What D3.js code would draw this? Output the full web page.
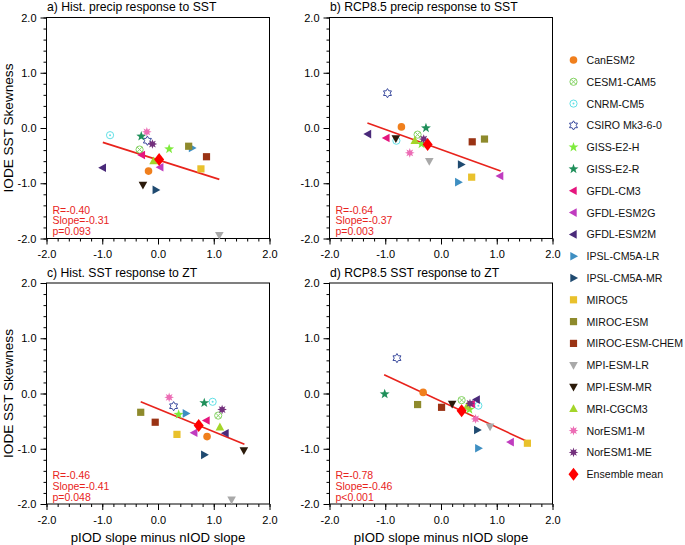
<!DOCTYPE html>
<html><head><meta charset="utf-8">
<script src="https://cdn.jsdelivr.net/npm/d3@7"></script>
<style>
body{margin:0;background:#fff;}
svg text{font-family:"Liberation Sans",Arial,Helvetica,sans-serif;}
</style></head>
<body><svg id="chart" width="685" height="545"></svg>
<script>
const models = ["CanESM2","CESM1-CAM5","CNRM-CM5","CSIRO Mk3-6-0","GISS-E2-H","GISS-E2-R","GFDL-CM3","GFDL-ESM2G","GFDL-ESM2M","IPSL-CM5A-LR","IPSL-CM5A-MR","MIROC5","MIROC-ESM","MIROC-ESM-CHEM","MPI-ESM-LR","MPI-ESM-MR","MRI-CGCM3","NorESM1-M","NorESM1-ME","Ensemble mean"];
const colors = ["#f07f1d","#86d366","#62e0e6","#3b4b9e","#7eeb3c","#1f8f5a","#e5157e","#c03cbf","#4a2a7a","#3e8fc2","#1f4a70","#e9c12c","#8e8a2c","#9a3314","#a9a9a9","#2b1a0a","#a4d52a","#ec6db5","#73307c","#ff0000"];
const markers = ["circle","circleX","circleDot","hexagram","star5","star5","triLeft","triLeft","triLeft","triRight","triRight","square","square","square","triDown","triDown","triUp","starburst","starburst","diamond"];

const titles = ["a) Hist. precip response to SST","b) RCP8.5 precip response to SST","c) Hist. SST response to ZT","d) RCP8.5 SST response to ZT"];

const xA = [-0.17,-0.33,-0.86,-0.19,0.20,-0.30,-0.29,0.04,-0.99,0.61,-0.04,0.77,0.55,0.87,1.10,-0.27,-0.08,-0.20,-0.10,0.02];
const yA = [-0.78,-0.39,-0.13,-0.23,-0.38,-0.15,-0.49,-0.71,-0.72,-0.36,-1.12,-0.74,-0.33,-0.52,-1.94,-1.03,-0.60,-0.07,-0.29,-0.57];
const xB = [-0.71,-0.42,-0.80,-0.96,-0.35,-0.27,-0.98,1.06,-1.31,0.31,0.36,0.55,0.78,0.56,-0.21,-0.81,-0.47,-0.56,-0.31,-0.24];
const yB = [0.02,-0.12,-0.23,0.63,-0.29,0.00,-0.18,-0.87,-0.11,-0.98,-0.66,-0.89,-0.20,-0.25,-0.60,-0.19,-0.23,-0.45,-0.20,-0.30];
const xC = [0.88,1.08,0.98,0.28,0.37,0.83,0.87,0.65,1.21,0.50,0.83,0.34,-0.31,-0.05,1.32,1.54,1.11,0.20,1.15,0.73];
const yC = [-0.78,-0.40,-0.15,-0.23,-0.38,-0.17,-0.49,-0.71,-0.72,-0.36,-1.11,-0.74,-0.34,-0.52,-1.92,-1.03,-0.61,-0.07,-0.29,-0.58];
const xD = [-0.32,0.37,0.67,-0.79,0.51,-1.01,0.55,1.25,0.64,0.67,0.65,1.55,-0.42,0.01,0.88,0.20,0.47,0.62,0.52,0.37];
const yD = [0.02,-0.12,-0.22,0.64,-0.29,-0.01,-0.19,-0.88,-0.11,-0.99,-0.66,-0.90,-0.20,-0.25,-0.60,-0.19,-0.23,-0.46,-0.18,-0.31];

const fitX = [[-0.99,1.10],[-1.32,1.07],[-0.31,1.55],[-1.02,1.55]];
const fitY = [[-0.26,-0.93],[0.09,-0.78],[-0.15,-0.92],[0.34,-0.87]];
const statR = ["R=-0.40","R=-0.64","R=-0.46","R=-0.78"];
const statSlope = ["Slope=-0.31","Slope=-0.37","Slope=-0.41","Slope=-0.46"];
const statP = ["p=0.093","p=0.003","p=0.048","p<0.001"];

const xTicks = [-2,-1,0,1,2];
const yTicks = [-2,-1,0,1,2];
const xLabel = "pIOD slope minus nIOD slope";
const yLabel = "IODE SST Skewness";

const panelX = [[xA,yA],[xB,yB],[xC,yC],[xD,yD]];

const svg = d3.select("#chart");
const W = 223, H = 221;
const pos = [[46.5,17.5],[329.5,17.5],[46.5,283],[329.5,283]];
const fmt = d => d.toFixed(1);
const minorVals = d3.range(-2,2.0001,0.2).map(v=>+v.toFixed(1));

function markerPath(type){
  const p = d3.path();
  const poly = pts => { p.moveTo(pts[0][0],pts[0][1]); pts.slice(1).forEach(q=>p.lineTo(q[0],q[1])); p.closePath(); };
  const star = (n, ro, ri, rot) => { const pts=[]; for(let i=0;i<2*n;i++){const a=rot+i*Math.PI/n; const r=i%2?ri:ro; pts.push([r*Math.sin(a),-r*Math.cos(a)]);} poly(pts); };
  switch(type){
    case "star5": star(5,5.2,2.1,0); break;
    case "starburst": star(8,4.8,2.4,0); break;
    case "hexagram": star(6,4.6,2.7,0); break;
    case "triLeft": poly([[-4.6,0],[3.2,-4.3],[3.2,4.3]]); break;
    case "triRight": poly([[4.6,0],[-3.2,-4.3],[-3.2,4.3]]); break;
    case "triDown": poly([[0,4.6],[-4.3,-3.2],[4.3,-3.2]]); break;
    case "triUp": poly([[0,-4.6],[-4.3,3.2],[4.3,3.2]]); break;
    case "square": p.rect(-3.6,-3.6,7.2,7.2); break;
    case "diamond": poly([[0,-6.5],[5,0],[0,6.5],[-5,0]]); break;
  }
  return p.toString();
}

function drawMarker(g, type, color, x, y){
  const m = g.append("g").attr("transform",`translate(${x},${y})`);
  if(type==="circle"){
    m.append("circle").attr("r",3.8).attr("fill",color);
  } else if(type==="circleX"){
    m.append("circle").attr("r",3.6).attr("fill","none").attr("stroke",color).attr("stroke-width",1);
    m.append("path").attr("d","M-2.5,-2.5L2.5,2.5M-2.5,2.5L2.5,-2.5").attr("stroke",color).attr("stroke-width",1);
  } else if(type==="circleDot"){
    m.append("circle").attr("r",3.6).attr("fill","none").attr("stroke",color).attr("stroke-width",1);
    m.append("circle").attr("r",1).attr("fill",color);
  } else if(type==="hexagram"){
    m.append("path").attr("d",markerPath(type)).attr("fill","none").attr("stroke",color).attr("stroke-width",1);
  } else {
    m.append("path").attr("d",markerPath(type)).attr("fill",color);
  }
}

pos.forEach((pp,k)=>{
  const [left, top] = pp;
  const g = svg.append("g").attr("transform",`translate(${left},${top})`);
  const x = d3.scaleLinear().domain([-2,2]).range([0,W]);
  const y = d3.scaleLinear().domain([-2,2]).range([H,0]);

  g.append("rect").attr("width",W).attr("height",H).attr("fill","none").attr("stroke","#000").attr("stroke-width",1);

  const xMinor = g.append("g").attr("transform",`translate(0,${H})`)
    .call(d3.axisBottom(x).tickValues(minorVals).tickSize(3).tickFormat(""));
  const yMinor = g.append("g").call(d3.axisLeft(y).tickValues(minorVals).tickSize(3).tickFormat(""));
  const xAx = g.append("g").attr("transform",`translate(0,${H})`)
    .call(d3.axisBottom(x).tickValues(xTicks).tickSize(6).tickSizeOuter(0).tickPadding(6).tickFormat(fmt));
  const yAx = g.append("g")
    .call(d3.axisLeft(y).tickValues(yTicks).tickSize(6).tickSizeOuter(0).tickPadding(4).tickFormat(fmt));
  [xMinor,yMinor,xAx,yAx].forEach(a=>{
    a.select(".domain").remove();
    a.selectAll("line").attr("stroke","#000");
    a.selectAll("text").attr("font-size",11).attr("fill","#000").attr("font-family","Liberation Sans, Arial, sans-serif");
  });

  svg.append("text").attr("x",left+0.5).attr("y",top-6.5).attr("font-size",12.2).attr("fill","#000").text(titles[k]);

  g.append("line")
    .attr("x1",x(fitX[k][0])).attr("y1",y(fitY[k][0]))
    .attr("x2",x(fitX[k][1])).attr("y2",y(fitY[k][1]))
    .attr("stroke","#e8231c").attr("stroke-width",1.6);

  const [xs, ys] = panelX[k];
  models.forEach((m,i)=>{ drawMarker(g, markers[i], colors[i], x(xs[i]), y(ys[i])); });

  const st = g.append("g").attr("fill","#e8231c").attr("font-size",10.5);
  [statR[k],statSlope[k],statP[k]].forEach((t,j)=>{
    st.append("text").attr("x",6).attr("y",H-25+j*10.8).text(t);
  });

  if(k===2||k===3){
    svg.append("text").attr("x",left+W/2).attr("y",top+H+37.5).attr("text-anchor","middle").attr("font-size",13.2).attr("fill","#000").text(xLabel);
  }
  if(k===0||k===2){
    svg.append("text").attr("transform",`translate(12.5,${top+H/2}) rotate(-90)`).attr("text-anchor","middle").attr("font-size",13.6).attr("fill","#000").text(yLabel);
  }
});

const lg = svg.append("g");
models.forEach((m,i)=>{
  const yy = 60 + i*21.8;
  drawMarker(lg, markers[i], colors[i], 573.5, yy);
  lg.append("text").attr("x",586.5).attr("y",yy+4).attr("font-size",10.6).attr("fill","#111").text(m);
});
</script>
</body></html>
